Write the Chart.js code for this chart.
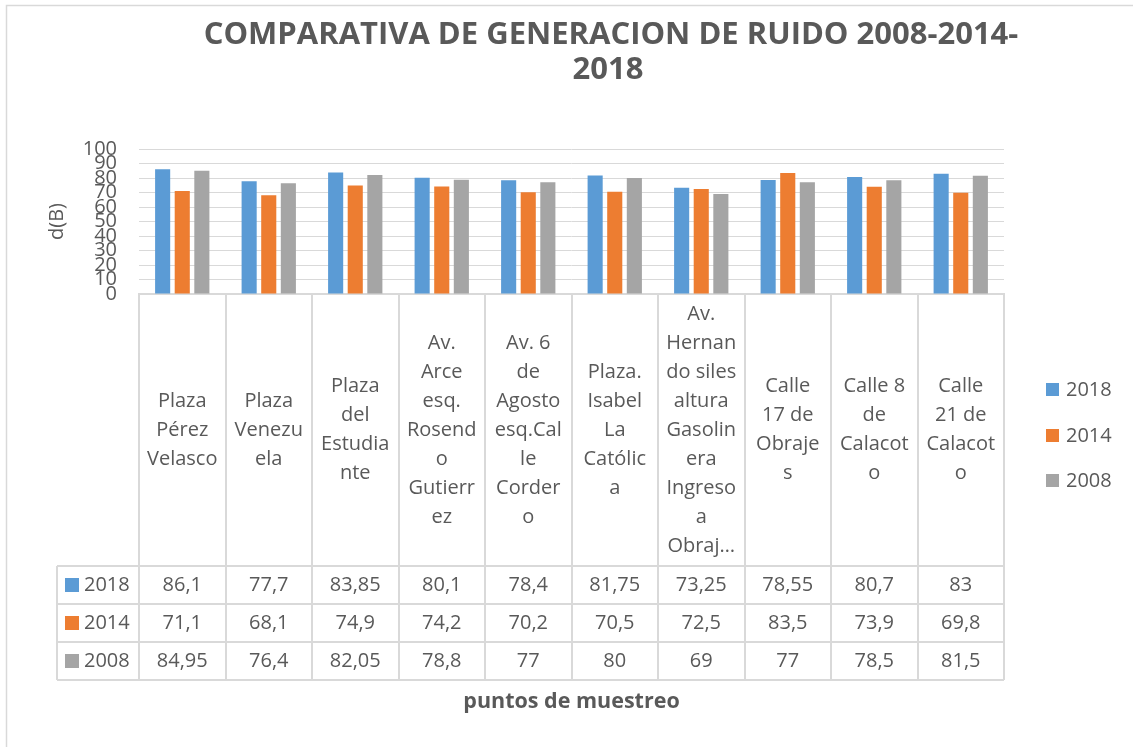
<!DOCTYPE html>
<html>
<head>
<meta charset="utf-8">
<script src="https://cdn.jsdelivr.net/npm/chart.js@4.4.1/dist/chart.umd.min.js"></script>
<style>
html,body{margin:0;padding:0;background:#ffffff;}
#wrap{width:1133px;height:747px;position:relative;}
canvas{display:block;}
</style>
</head>
<body>
<div id="wrap"><canvas id="c" width="1133" height="747"></canvas></div>
<script>
// ---- data ----
const categories = [
  "Plaza Pérez Velasco",
  "Plaza Venezuela",
  "Plaza del Estudiante",
  "Av. Arce esq. Rosendo Gutierrez",
  "Av. 6 de Agosto esq.Calle Cordero",
  "Plaza. Isabel La Católica",
  "Av. Hernando siles altura Gasolinera Ingreso a Obrajes",
  "Calle 17 de Obrajes",
  "Calle 8 de Calacoto",
  "Calle 21 de Calacoto"
];
const categoryLines = [
  ["Plaza", "Pérez", "Velasco"],
  ["Plaza", "Venezu", "ela"],
  ["Plaza", "del", "Estudia", "nte"],
  ["Av.", "Arce", "esq.", "Rosend", "o", "Gutierr", "ez"],
  ["Av. 6", "de", "Agosto", "esq.Cal", "le", "Corder", "o"],
  ["Plaza.", "Isabel", "La", "Católic", "a"],
  ["Av.", "Hernan", "do siles", "altura", "Gasolin", "era", "Ingreso", "a", "Obraj…"],
  ["Calle", "17 de", "Obraje", "s"],
  ["Calle 8", "de", "Calacot", "o"],
  ["Calle", "21 de", "Calacot", "o"]
];
const seriesNames = ["2018", "2014", "2008"];
const values2018 = [86.1, 77.7, 83.85, 80.1, 78.4, 81.75, 73.25, 78.55, 80.7, 83];
const values2014 = [71.1, 68.1, 74.9, 74.2, 70.2, 70.5, 72.5, 83.5, 73.9, 69.8];
const values2008 = [84.95, 76.4, 82.05, 78.8, 77, 80, 69, 77, 78.5, 81.5];
const seriesColors = ["#5B9BD5", "#ED7D31", "#A5A5A5"];
const yMin = 0, yMax = 100, yStep = 10;
const titleLines = ["COMPARATIVA DE GENERACION DE RUIDO 2008-2014-", "2018"];
const yAxisTitle = "d(B)";
const xAxisTitle = "puntos de muestreo";

// ---- styling ----
const FONT = "'Open Sans', 'Liberation Sans', sans-serif";
const TXT = "#595959";
const LINE = "#D9D9D9";

const excelPlugin = {
  id: "excelExtras",
  beforeDraw(chart) {
    const ctx = chart.ctx;
    ctx.save();
    // chart border (left and top visible)
    ctx.strokeStyle = LINE;
    ctx.lineWidth = 1.5;
    ctx.strokeRect(6.5, 5.5, 1300, 900);
    // title
    ctx.fillStyle = TXT;
    ctx.font = "bold 31px " + FONT;
    ctx.textAlign = "center";
    ctx.textBaseline = "alphabetic";
    ctx.fillText(titleLines[0], 611, 44);
    ctx.fillText(titleLines[1], 608, 79);
    ctx.restore();
  },
  afterDraw(chart) {
    const ctx = chart.ctx;
    const a = chart.chartArea;
    const x = chart.scales.x;
    const n = chart.data.labels.length;
    const colW = (a.right - a.left) / n;
    const labelTop = a.bottom;
    const labelBottom = a.bottom + 272;
    const rowH = 38;
    const tableLeft = 57;
    const tableBottom = labelBottom + rowH * 3;

    ctx.save();
    ctx.strokeStyle = LINE;
    ctx.lineWidth = 2;
    ctx.beginPath();
    // vertical lines of category area + table
    for (let i = 0; i <= n; i++) {
      const px = Math.round(a.left + i * colW);
      ctx.moveTo(px, labelTop);
      ctx.lineTo(px, tableBottom);
    }
    // table left edge
    ctx.moveTo(tableLeft, labelBottom);
    ctx.lineTo(tableLeft, tableBottom);
    // horizontal row lines
    for (let r = 0; r <= 3; r++) {
      const py = labelBottom + r * rowH;
      ctx.moveTo(tableLeft, py);
      ctx.lineTo(a.right, py);
    }
    ctx.stroke();

    // category labels
    ctx.fillStyle = TXT;
    ctx.font = "20px " + FONT;
    ctx.textAlign = "center";
    ctx.textBaseline = "middle";
    const lh = 29;
    const midY = (labelTop + labelBottom) / 2;
    chart.data.labels.forEach((lines, i) => {
      const cx = x.getPixelForValue(i);
      const startY = midY - (lines.length - 1) * lh / 2;
      lines.forEach((t, k) => ctx.fillText(t, cx, startY + k * lh));
    });

    // data table
    chart.data.datasets.forEach((ds, r) => {
      const cy = labelBottom + r * rowH + rowH / 2;
      ctx.fillStyle = ds.backgroundColor;
      ctx.fillRect(65, cy - 7, 14, 14);
      ctx.fillStyle = TXT;
      ctx.textAlign = "left";
      ctx.fillText(ds.label, 84, cy);
      ctx.textAlign = "center";
      ds.data.forEach((v, i) => {
        ctx.fillText(String(v).replace(".", ","), x.getPixelForValue(i), cy);
      });
    });

    // legend
    const legY = [390, 436, 481];
    chart.data.datasets.forEach((ds, r) => {
      ctx.fillStyle = ds.backgroundColor;
      ctx.fillRect(1046, legY[r] - 7, 13, 13);
      ctx.fillStyle = TXT;
      ctx.textAlign = "left";
      ctx.fillText(ds.label, 1066, legY[r]);
    });
    ctx.restore();
  }
};

const allValues = [values2018, values2014, values2008];
new Chart(document.getElementById("c"), {
  type: "bar",
  data: {
    labels: categoryLines,
    datasets: seriesNames.map((name, i) => ({
      label: name,
      data: allValues[i],
      backgroundColor: seriesColors[i],
      borderWidth: 0,
      categoryPercentage: 0.68,
      barPercentage: 0.77
    }))
  },
  options: {
    responsive: false,
    animation: false,
    devicePixelRatio: 1,
    layout: { padding: { top: 149, right: 129, bottom: 0, left: 0 } },
    plugins: {
      legend: { display: false },
      title: { display: false },
      tooltip: { enabled: false }
    },
    scales: {
      x: {
        grid: { display: false },
        border: { display: true, color: LINE, width: 2 },
        ticks: { display: false },
        title: {
          display: true,
          text: xAxisTitle,
          color: TXT,
          font: { family: FONT, size: 21.5, weight: "bold" },
          padding: { top: 0, bottom: 32 }
        },
        afterFit(scale) { scale.height = 453; }
      },
      y: {
        min: yMin,
        max: yMax,
        grid: { color: LINE, lineWidth: 1, drawTicks: false },
        border: { display: false },
        ticks: {
          stepSize: yStep,
          autoSkip: false,
          padding: 22,
          color: TXT,
          font: { family: FONT, size: 20, lineHeight: 0.6 }
        },
        title: {
          display: true,
          text: yAxisTitle,
          color: TXT,
          font: { family: FONT, size: 20, lineHeight: 1.2 },
          padding: { top: 45, bottom: 0 }
        },
        afterFit(scale) { scale.width = 139; }
      }
    }
  },
  plugins: [excelPlugin]
});
</script>
</body>
</html>
